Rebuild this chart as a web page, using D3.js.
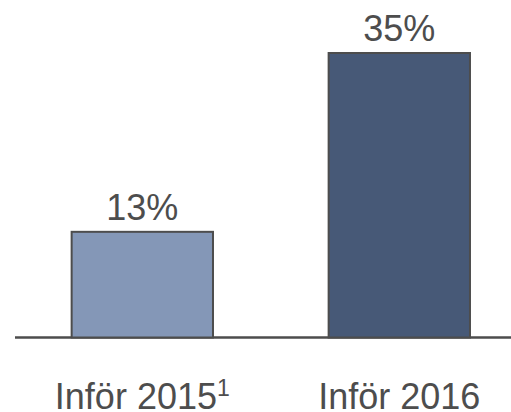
<!DOCTYPE html>
<html>
<head>
<meta charset="utf-8">
<script src="https://cdn.jsdelivr.net/npm/d3@7"></script>
<style>
  body { margin: 0; background: #fff; }
  text { font-family: "Liberation Sans", Arial, sans-serif; fill: #4d4d4d; }
</style>
</head>
<body>
<div id="chart"></div>
<script>
const categories = ["Inför 2015", "Inför 2016"];
const footnotes = ["1", ""];
const values = [13, 35];
const colors = ["#8497b7", "#475977"];

const width = 511, height = 412;

const svg = d3.select("#chart")
    .append("svg")
    .attr("width", width)
    .attr("height", height);

const x = d3.scaleBand()
    .domain(categories)
    .range([15, 511])
    .paddingInner(0.45)
    .paddingOuter(0.19)
    .align(0.58);

const y = d3.scaleLinear()
    .domain([0, 35])
    .range([337.5, 53]);

// baseline
svg.append("line")
    .attr("x1", 15)
    .attr("x2", 511)
    .attr("y1", y(0))
    .attr("y2", y(0))
    .attr("stroke", "#4d4d4d")
    .attr("stroke-width", 2.5);

svg.selectAll("rect.bar")
    .data(values)
    .enter()
    .append("rect")
    .classed("bar", true)
    .attr("x", (d, i) => x(categories[i]))
    .attr("y", d => y(d))
    .attr("width", x.bandwidth())
    .attr("height", d => y(0) - y(d))
    .attr("fill", (d, i) => colors[i])
    .attr("stroke", "#4d4d4d")
    .attr("stroke-width", 2);

svg.selectAll("text.value")
    .data(values)
    .enter()
    .append("text")
    .classed("value", true)
    .attr("x", (d, i) => x(categories[i]) + x.bandwidth() / 2)
    .attr("y", d => y(d) - 12)
    .attr("text-anchor", "middle")
    .style("font-size", "36px")
    .text(d => d + "%");

const cat = svg.selectAll("text.cat")
    .data(categories)
    .enter()
    .append("text")
    .classed("cat", true)
    .attr("x", d => x(d) + x.bandwidth() / 2)
    .attr("y", 409)
    .attr("text-anchor", "middle")
    .style("font-size", "36px");

cat.append("tspan").text(d => d);
cat.append("tspan")
    .attr("dy", -13)
    .style("font-size", "23px")
    .text((d, i) => footnotes[i]);
</script>
</body>
</html>
